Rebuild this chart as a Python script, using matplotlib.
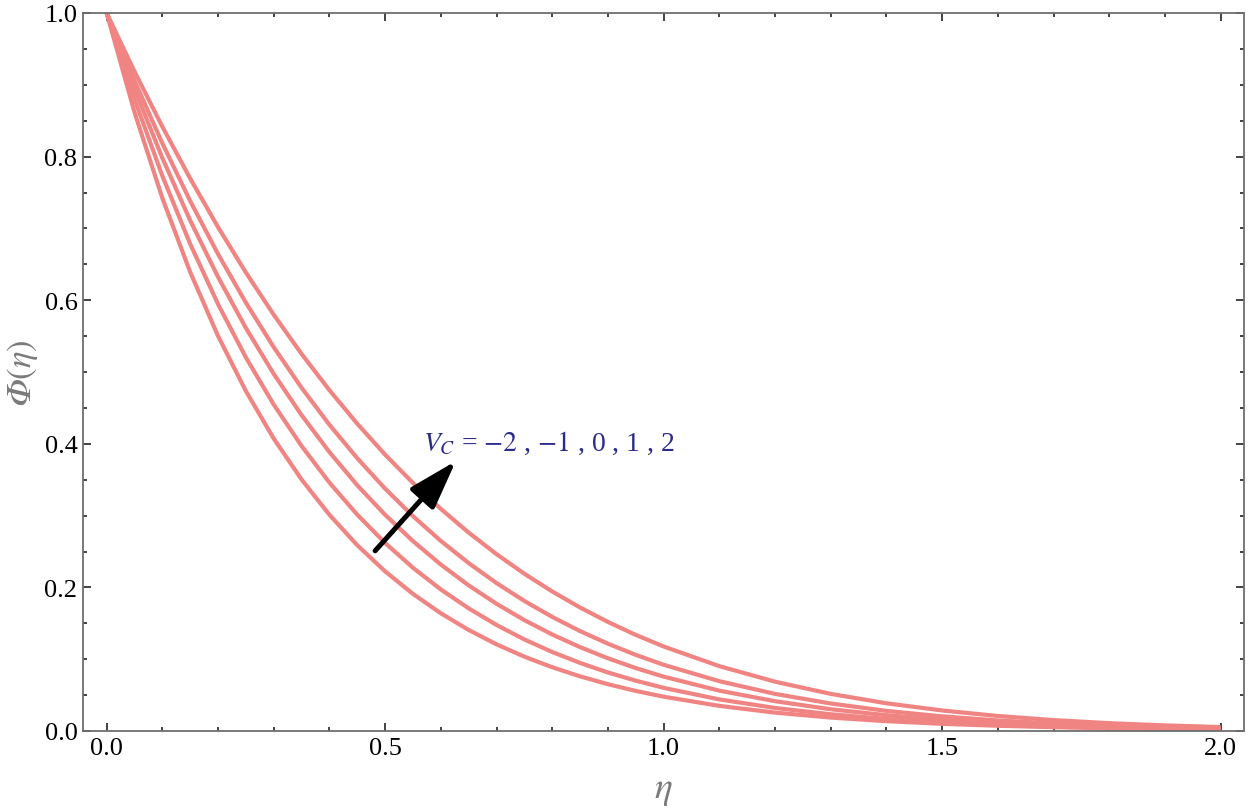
import matplotlib
matplotlib.use("Agg")
import matplotlib.pyplot as plt
from matplotlib.ticker import MultipleLocator

plt.rcParams['font.family'] = ['Liberation Serif', 'DejaVu Serif']
plt.rcParams['mathtext.fontset'] = 'stix'

# eta grid and Phi(eta) curves, for V_C = -2, -1, 0, 1, 2
eta = [0.0, 0.05, 0.10, 0.15, 0.20, 0.25, 0.30, 0.35, 0.40, 0.45, 0.50,
       0.55, 0.60, 0.65, 0.70, 0.75, 0.80, 0.85, 0.90, 0.95, 1.00,
       1.1, 1.2, 1.3, 1.4, 1.5, 1.6, 1.7, 1.8, 1.9, 2.0]

phi_vc_m2 = [1.0, 0.8617, 0.7421, 0.6391, 0.5501, 0.4734, 0.4072, 0.3502, 0.3011, 0.2587, 0.2223,
             0.1909, 0.1639, 0.1407, 0.1207, 0.1035, 0.0888, 0.0761, 0.0652, 0.0558, 0.0478,
             0.0350, 0.0256, 0.0187, 0.0137, 0.0100, 0.0073, 0.0053, 0.0038, 0.0028, 0.0020]
phi_vc_m1 = [1.0, 0.8798, 0.7731, 0.6783, 0.5944, 0.5202, 0.4546, 0.3969, 0.3459, 0.3012, 0.2618,
             0.2273, 0.1971, 0.1708, 0.1477, 0.1275, 0.1100, 0.0948, 0.0815, 0.0701, 0.0601,
             0.0440, 0.0321, 0.0233, 0.0168, 0.0121, 0.0086, 0.0061, 0.0043, 0.0030, 0.0021]
phi_vc_0 = [1.0, 0.8941, 0.7980, 0.7110, 0.6323, 0.5612, 0.4973, 0.4399, 0.3884, 0.3422, 0.3011,
            0.2644, 0.2318, 0.2028, 0.1772, 0.1544, 0.1344, 0.1168, 0.1013, 0.0876, 0.0757,
            0.0562, 0.0415, 0.0303, 0.0220, 0.0159, 0.0114, 0.0081, 0.0057, 0.0040, 0.0028]
phi_vc_p1 = [1.0, 0.9057, 0.8185, 0.7381, 0.6642, 0.5965, 0.5345, 0.4780, 0.4265, 0.3798, 0.3375,
             0.2992, 0.2647, 0.2338, 0.2060, 0.1811, 0.1589, 0.1391, 0.1216, 0.1060, 0.0922,
             0.0694, 0.0517, 0.0383, 0.0280, 0.0204, 0.0147, 0.0105, 0.0075, 0.0052, 0.0036]
phi_vc_p2 = [1.0, 0.9184, 0.8416, 0.7694, 0.7017, 0.6385, 0.5797, 0.5251, 0.4746, 0.4279, 0.3848,
             0.3454, 0.3093, 0.2763, 0.2463, 0.2190, 0.1943, 0.1720, 0.1519, 0.1338, 0.1177,
             0.0903, 0.0687, 0.0517, 0.0386, 0.0286, 0.0209, 0.0152, 0.0109, 0.0078, 0.0055]

series = [phi_vc_m2, phi_vc_m1, phi_vc_0, phi_vc_p1, phi_vc_p2]
label_text = r"$V_C$ = $-2$ , $-1$ , 0 , 1 , 2"
x_ticks = [0.0, 0.5, 1.0, 1.5, 2.0]
y_ticks = [0.0, 0.2, 0.4, 0.6, 0.8, 1.0]

fig = plt.figure(figsize=(12.5, 8.12), dpi=100)
ax = fig.add_axes([83/1250, 1 - 732/812, (1244 - 83)/1250, (732 - 14)/812])

line_color = '#F08482'
for s in series:
    ax.plot(eta, s, color=line_color, lw=3.0, solid_capstyle='butt', zorder=2)

ax.set_xlim(-0.0425, 2.042)
ax.set_ylim(0.0, 1.0)
ax.set_xticks(x_ticks)
ax.set_xticklabels([f"{v:.1f}" for v in x_ticks])
ax.set_yticks(y_ticks)
ax.set_yticklabels([f"{v:.1f}" for v in y_ticks])
ax.xaxis.set_minor_locator(MultipleLocator(0.1))
ax.yaxis.set_minor_locator(MultipleLocator(0.05))

ax.tick_params(which='both', direction='in', top=True, right=True, color='#222222', width=1.2)
ax.tick_params(which='major', length=5.5, labelsize=19, pad=4)
ax.tick_params(which='minor', length=3.2)
for sp in ax.spines.values():
    sp.set_color('#6e6e6e')
    sp.set_linewidth(1.3)

ax.set_xlabel(r"$\eta$", fontsize=27, color='#7a7a7a', labelpad=10)
ax.set_ylabel("\U0001D6F7" + r"$(\eta)$", fontsize=25, color='#7a7a7a', labelpad=3,
              family=['STIXGeneral', 'DejaVu Serif'])

ax.annotate("", xy=(0.627, 0.376), xytext=(0.482, 0.251),
            arrowprops=dict(arrowstyle="-|>,head_length=1.0,head_width=0.32",
                            mutation_scale=30, color='black', lw=3.6,
                            shrinkA=0, shrinkB=0), zorder=4)
ax.text(0.568, 0.392, label_text, fontsize=20, color='#2b2b8c', va='baseline', ha='left', zorder=5)

fig.savefig("out.png", dpi=100)
